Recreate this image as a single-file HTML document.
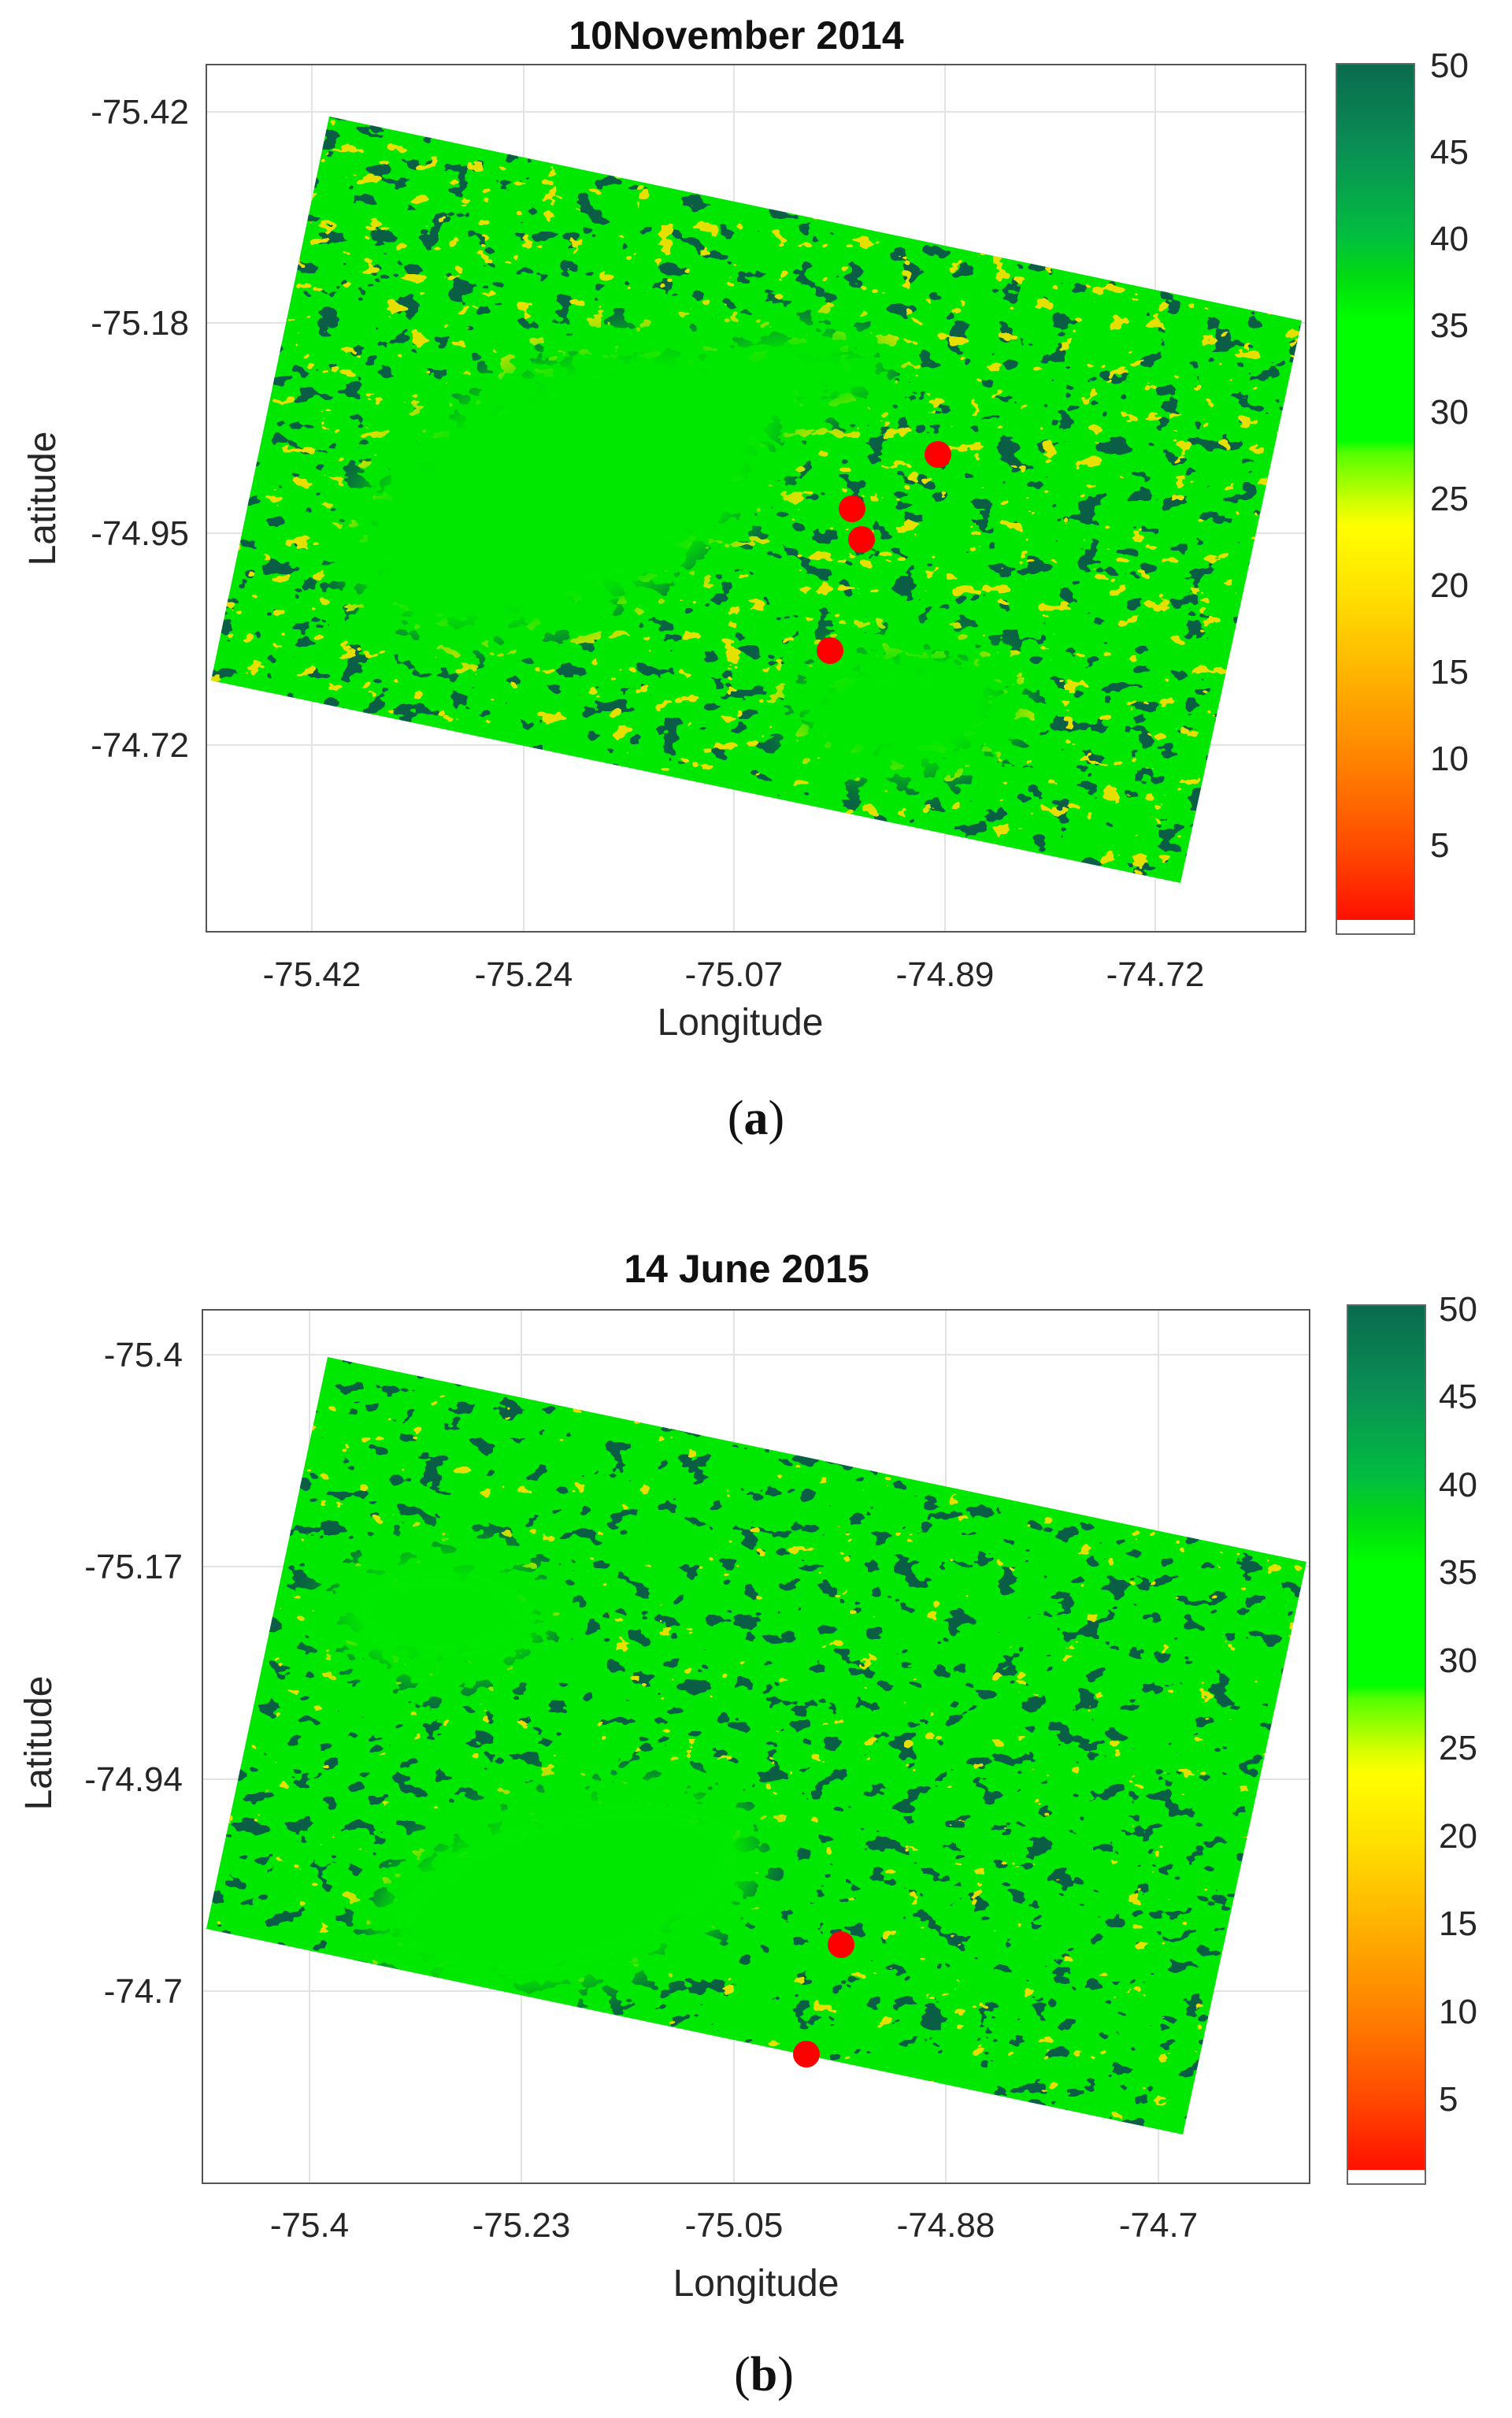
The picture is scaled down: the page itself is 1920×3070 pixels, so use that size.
<!DOCTYPE html>
<html><head><meta charset="utf-8"><style>
html,body{margin:0;padding:0;background:#fff;}
svg{display:block;}
text{font-family:"Liberation Sans",Arial,sans-serif;fill:#262626;}
</style></head><body>
<svg width="1920" height="3070" viewBox="0 0 1920 3070" xmlns="http://www.w3.org/2000/svg">
<defs>
<linearGradient id="cb" x1="0" y1="0" x2="0" y2="1">
<stop offset="0" stop-color="#0a6a4e"/>
<stop offset="0.10" stop-color="#0a8f55"/>
<stop offset="0.20" stop-color="#02bd40"/>
<stop offset="0.25" stop-color="#00dc10"/>
<stop offset="0.30" stop-color="#00ff00"/>
<stop offset="0.44" stop-color="#00ff00"/>
<stop offset="0.455" stop-color="#55ff00"/>
<stop offset="0.51" stop-color="#ccff00"/>
<stop offset="0.54" stop-color="#ffff00"/>
<stop offset="0.62" stop-color="#ffe000"/>
<stop offset="0.72" stop-color="#ffb000"/>
<stop offset="0.82" stop-color="#ff8000"/>
<stop offset="0.92" stop-color="#ff4800"/>
<stop offset="1" stop-color="#ff1000"/>
</linearGradient>
<filter id="darkA" filterUnits="userSpaceOnUse" x="260" y="80" width="1400" height="1100" color-interpolation-filters="sRGB">
<feTurbulence type="fractalNoise" baseFrequency="0.03 0.045" numOctaves="3" seed="3"/>
<feColorMatrix type="matrix" values="0 0 0 0 0.04  0 0 0 0 0.37  0 0 0 0 0.27  1 0 0 0 0"/>
<feComponentTransfer><feFuncA type="discrete" tableValues="0 0 0 0 0 0 0 0 0 0 0 0 0 1 1 1 1 1 1 1"/></feComponentTransfer>
</filter>
<filter id="yelA" filterUnits="userSpaceOnUse" x="260" y="80" width="1400" height="1100" color-interpolation-filters="sRGB">
<feTurbulence type="fractalNoise" baseFrequency="0.035 0.05" numOctaves="3" seed="11"/>
<feColorMatrix type="matrix" values="0 0 0 0 0.9  0 0 0 0 0.88  0 0 0 0 0  1 0 0 0 0"/>
<feComponentTransfer><feFuncA type="discrete" tableValues="0 0 0 0 0 0 0 0 0 0 0 0 0 0 1 1 1 1 1 1"/></feComponentTransfer>
</filter>
<filter id="darkB" filterUnits="userSpaceOnUse" x="255" y="1660" width="1410" height="1115" color-interpolation-filters="sRGB">
<feTurbulence type="fractalNoise" baseFrequency="0.03 0.045" numOctaves="3" seed="7"/>
<feColorMatrix type="matrix" values="0 0 0 0 0.04  0 0 0 0 0.37  0 0 0 0 0.27  1 0 0 0 0"/>
<feComponentTransfer><feFuncA type="discrete" tableValues="0 0 0 0 0 0 0 0 0 0 0 0 0 1 1 1 1 1 1 1"/></feComponentTransfer>
</filter>
<filter id="yelB" filterUnits="userSpaceOnUse" x="255" y="1660" width="1410" height="1115" color-interpolation-filters="sRGB">
<feTurbulence type="fractalNoise" baseFrequency="0.035 0.05" numOctaves="3" seed="19"/>
<feColorMatrix type="matrix" values="0 0 0 0 0.9  0 0 0 0 0.88  0 0 0 0 0  1 0 0 0 0"/>
<feComponentTransfer><feFuncA type="discrete" tableValues="0 0 0 0 0 0 0 0 0 0 0 0 0 0 0 1 1 1 1 1"/></feComponentTransfer>
</filter>
<filter id="soft" x="-30%" y="-30%" width="160%" height="160%"><feGaussianBlur stdDeviation="25"/></filter>
<clipPath id="pa"><polygon points="418,148 1653,407 1499,1121 268,864"/></clipPath>
<clipPath id="pb"><polygon points="416,1723 1659,1983 1502,2710 262,2449"/></clipPath>
</defs>

<!-- Panel A -->
<text x="935" y="62" font-size="50" font-weight="bold" text-anchor="middle" style="fill:#111">10November 2014</text>
<rect x="262" y="82" width="1396" height="1101" fill="#fff"/>
<g stroke="#e3e3e3" stroke-width="2">
<line x1="396" y1="82" x2="396" y2="1183"/><line x1="665" y1="82" x2="665" y2="1183"/><line x1="932" y1="82" x2="932" y2="1183"/><line x1="1200" y1="82" x2="1200" y2="1183"/><line x1="1467" y1="82" x2="1467" y2="1183"/>
<line x1="262" y1="142" x2="1658" y2="142"/><line x1="262" y1="410" x2="1658" y2="410"/><line x1="262" y1="677" x2="1658" y2="677"/><line x1="262" y1="946" x2="1658" y2="946"/>
</g>
<g clip-path="url(#pa)">
<rect x="260" y="80" width="1400" height="1100" fill="#00e800"/>
<rect x="260" y="80" width="1400" height="1100" filter="url(#darkA)"/>
<rect x="260" y="80" width="1400" height="1100" filter="url(#yelA)"/>
<g fill="#00e800" filter="url(#soft)">
<ellipse cx="720" cy="620" rx="300" ry="170" transform="rotate(-25 720 620)"/>
<ellipse cx="1150" cy="900" rx="150" ry="90"/>
<ellipse cx="1020" cy="470" rx="120" ry="60"/>
</g>
</g>
<rect x="262" y="82" width="1396" height="1101" fill="none" stroke="#555" stroke-width="2"/>
<g fill="#ff0000">
<circle cx="1191" cy="577" r="17"/><circle cx="1082" cy="646" r="17"/><circle cx="1094" cy="685" r="17"/><circle cx="1054" cy="826" r="17"/>
</g>
<g font-size="44" text-anchor="end">
<text x="240" y="157">-75.42</text><text x="240" y="425">-75.18</text><text x="240" y="692">-74.95</text><text x="240" y="961">-74.72</text>
</g>
<g font-size="44" text-anchor="middle">
<text x="396" y="1252">-75.42</text><text x="665" y="1252">-75.24</text><text x="932" y="1252">-75.07</text><text x="1200" y="1252">-74.89</text><text x="1467" y="1252">-74.72</text>
</g>
<text x="940" y="1314" font-size="48" text-anchor="middle">Longitude</text>
<text transform="translate(70,633) rotate(-90)" font-size="48" text-anchor="middle">Latitude</text>
<rect x="1697" y="81" width="99" height="1087" fill="url(#cb)"/>
<rect x="1697" y="81" width="99" height="1105" fill="none" stroke="#666" stroke-width="2"/>
<g font-size="44">
<text x="1816" y="98">50</text><text x="1816" y="208">45</text><text x="1816" y="318">40</text><text x="1816" y="428">35</text><text x="1816" y="538">30</text><text x="1816" y="648">25</text><text x="1816" y="758">20</text><text x="1816" y="868">15</text><text x="1816" y="978">10</text><text x="1816" y="1088">5</text>
</g>
<text x="960" y="1440" font-size="62" text-anchor="middle" style="font-family:'Liberation Serif',serif;fill:#111"><tspan>(</tspan><tspan font-weight="bold">a</tspan><tspan>)</tspan></text>

<!-- Panel B -->
<text x="948" y="1628" font-size="50" font-weight="bold" text-anchor="middle" style="fill:#111">14 June 2015</text>
<rect x="257" y="1663" width="1406" height="1109" fill="#fff"/>
<g stroke="#e3e3e3" stroke-width="2">
<line x1="393" y1="1663" x2="393" y2="2772"/><line x1="662" y1="1663" x2="662" y2="2772"/><line x1="932" y1="1663" x2="932" y2="2772"/><line x1="1201" y1="1663" x2="1201" y2="2772"/><line x1="1471" y1="1663" x2="1471" y2="2772"/>
<line x1="257" y1="1720" x2="1663" y2="1720"/><line x1="257" y1="1989" x2="1663" y2="1989"/><line x1="257" y1="2259" x2="1663" y2="2259"/><line x1="257" y1="2528" x2="1663" y2="2528"/>
</g>
<g clip-path="url(#pb)">
<rect x="255" y="1660" width="1410" height="1115" fill="#00e800"/>
<rect x="255" y="1660" width="1410" height="1115" filter="url(#darkB)"/>
<rect x="255" y="1660" width="1410" height="1115" filter="url(#yelB)"/>
<g fill="#00e800" filter="url(#soft)">
<ellipse cx="720" cy="2400" rx="260" ry="130" transform="rotate(-15 720 2400)"/>
<ellipse cx="560" cy="2050" rx="150" ry="90"/>
</g>
</g>
<rect x="257" y="1663" width="1406" height="1109" fill="none" stroke="#555" stroke-width="2"/>
<g fill="#ff0000"><circle cx="1068" cy="2469" r="17"/><circle cx="1024" cy="2608" r="17"/></g>
<g font-size="44" text-anchor="end">
<text x="232" y="1735">-75.4</text><text x="232" y="2004">-75.17</text><text x="232" y="2274">-74.94</text><text x="232" y="2543">-74.7</text>
</g>
<g font-size="44" text-anchor="middle">
<text x="393" y="2840">-75.4</text><text x="662" y="2840">-75.23</text><text x="932" y="2840">-75.05</text><text x="1201" y="2840">-74.88</text><text x="1471" y="2840">-74.7</text>
</g>
<text x="960" y="2915" font-size="48" text-anchor="middle">Longitude</text>
<text transform="translate(65,2213) rotate(-90)" font-size="48" text-anchor="middle">Latitude</text>
<rect x="1711" y="1657" width="99" height="1098" fill="url(#cb)"/>
<rect x="1711" y="1657" width="99" height="1116" fill="none" stroke="#666" stroke-width="2"/>
<g font-size="44">
<text x="1827" y="1677">50</text><text x="1827" y="1788">45</text><text x="1827" y="1900">40</text><text x="1827" y="2011">35</text><text x="1827" y="2123">30</text><text x="1827" y="2234">25</text><text x="1827" y="2346">20</text><text x="1827" y="2457">15</text><text x="1827" y="2569">10</text><text x="1827" y="2680">5</text>
</g>
<text x="970" y="3035" font-size="62" text-anchor="middle" style="font-family:'Liberation Serif',serif;fill:#111"><tspan>(</tspan><tspan font-weight="bold">b</tspan><tspan>)</tspan></text>
</svg>
</body></html>
